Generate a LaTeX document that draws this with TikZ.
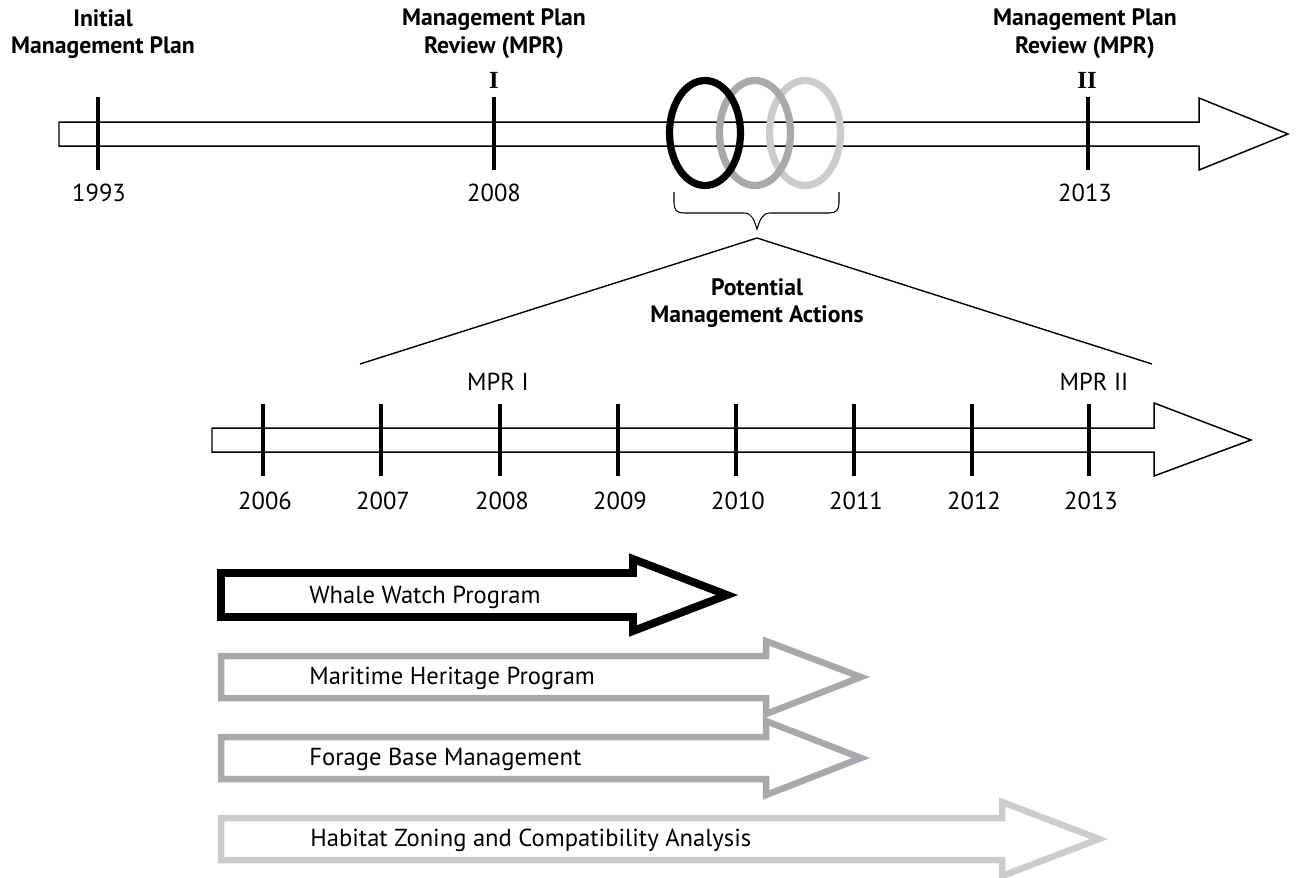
\documentclass[tikz,border=0pt]{standalone}
\usepackage{fontspec}
\setmainfont{PT Sans}
\newfontfamily\romanfont{Liberation Serif}
\definecolor{midgray}{HTML}{A7A9AC}
\definecolor{palegray}{HTML}{CACCCE}
\tikzset{
  timeline/.style={draw=black, line width=0.85pt, fill=white, line join=miter},
  yearmark/.style={draw=black, line width=2pt},
  heading/.style={font=\fontsize{13.5}{15.8}\selectfont\bfseries, align=center, inner sep=0pt},
  yearlabel/.style={font=\fontsize{14}{16}\selectfont, inner sep=0pt},
  numeral/.style={font=\romanfont\bfseries\fontsize{14}{16}\selectfont, inner sep=0pt},
  ring/.style={line width=4.1pt},
  actionarrow/.style={line width=#1, fill=white, line join=miter, miter limit=10},
  actionlabel/.style={font=\fontsize{14}{16}\selectfont, anchor=west, inner sep=0pt},
  thinline/.style={draw=black, line width=0.8pt},
}
\begin{document}
\begin{tikzpicture}[x=0.02cm, y=-0.02cm]
\useasboundingbox (0,0) rectangle (1299,877);

% ---------- top timeline ----------
\draw[timeline] (59,122) -- (1199,122) -- (1199,98) -- (1288,134) -- (1199,170) -- (1199,146) -- (59,146) -- cycle;
\draw[yearmark] (98,97) -- (98,170);
\draw[yearmark] (494,97) -- (494,170);
\draw[yearmark] (1088,97) -- (1088,170);

\node[heading] (hinit) at (103,34) {Initial\\Management Plan};
\node[heading] (hmpr1) at (494,34) {Management Plan\\Review (MPR)};
\node[heading] (hmpr2) at (1085,34) {Management Plan\\Review (MPR)};
\node[numeral] (nI) at (494,80) {I};
\node[numeral] (nII) at (1087,80) {II};

\node[yearlabel] (y1993) at (99,193) {1993};
\node[yearlabel] (y2008t) at (494,193) {2008};
\node[yearlabel] (y2013t) at (1085,193) {2013};

% ---------- rings ----------
\draw[ring, draw=palegray] (805,133) ellipse [x radius=0.71cm, y radius=1.05cm];
\draw[ring, draw=midgray] (755,133) ellipse [x radius=0.71cm, y radius=1.05cm];
\draw[ring, draw=black] (705,133) ellipse [x radius=0.71cm, y radius=1.05cm];

% ---------- brace ----------
\coordinate (bl) at (674,192);
\coordinate (br) at (839,192);
\coordinate (btip) at (757,229);
\draw[line width=0.6pt] (bl) -- (674,203) .. controls (674,210) and (677,213) .. (684,213)
  -- (744,213) .. controls (752,213) and (754,220) .. (btip)
  .. controls (760,220) and (762,213) .. (770,213) -- (829,213)
  .. controls (836,213) and (839,210) .. (839,203) -- (br);

% ---------- zoom lines ----------
\coordinate (apex) at (757,238);
\coordinate (zl) at (360,364);
\coordinate (zr) at (1152,364);
\draw[thinline] (zl) -- (apex) -- (zr);

\node[heading] (pma) at (757,303) {Potential\\Management Actions};

% ---------- bottom timeline ----------
\draw[timeline] (212,428) -- (1154,428) -- (1154,403) -- (1251,440) -- (1154,476) -- (1154,452) -- (212,452) -- cycle;
\foreach \x/\yr in {263/2006, 381/2007, 500/2008, 618/2009, 736/2010, 854/2011, 972/2012, 1089/2013}{
  \draw[yearmark] (\x,404) -- (\x,476);
  \node[yearlabel] (yb\yr) at (\x+2,501) {\yr};
}
\node[yearlabel] (mprI) at (498,382) {MPR I};
\node[yearlabel] (mprII) at (1094,382) {MPR II};

% ---------- action arrows ----------
\draw[actionarrow=4.5pt, draw=black] (221,573) -- (633,573) -- (633,559) -- (727,595) -- (633,631) -- (633,617) -- (221,617) -- cycle;
\node[actionlabel] (whale) at (309,597) {Whale Watch Program};

\draw[actionarrow=3.7pt, draw=midgray] (221,656) -- (766,656) -- (766,641) -- (861,677) -- (766,714) -- (766,698) -- (221,698) -- cycle;
\node[actionlabel] (marit) at (309,678) {Maritime Heritage Program};

\draw[actionarrow=3.7pt, draw=midgray] (221,737) -- (766,737) -- (766,721) -- (861,758) -- (766,795) -- (766,779) -- (221,779) -- cycle;
\node[actionlabel] (forage) at (309,759) {Forage Base Management};

\draw[actionarrow=3.7pt, draw=palegray] (221,818) -- (1002,818) -- (1002,802) -- (1099,839) -- (1002,876) -- (1002,860) -- (221,860) -- cycle;
\node[actionlabel] (habitat) at (310,840) {Habitat Zoning and Compatibility Analysis};
\end{tikzpicture}
\end{document}
